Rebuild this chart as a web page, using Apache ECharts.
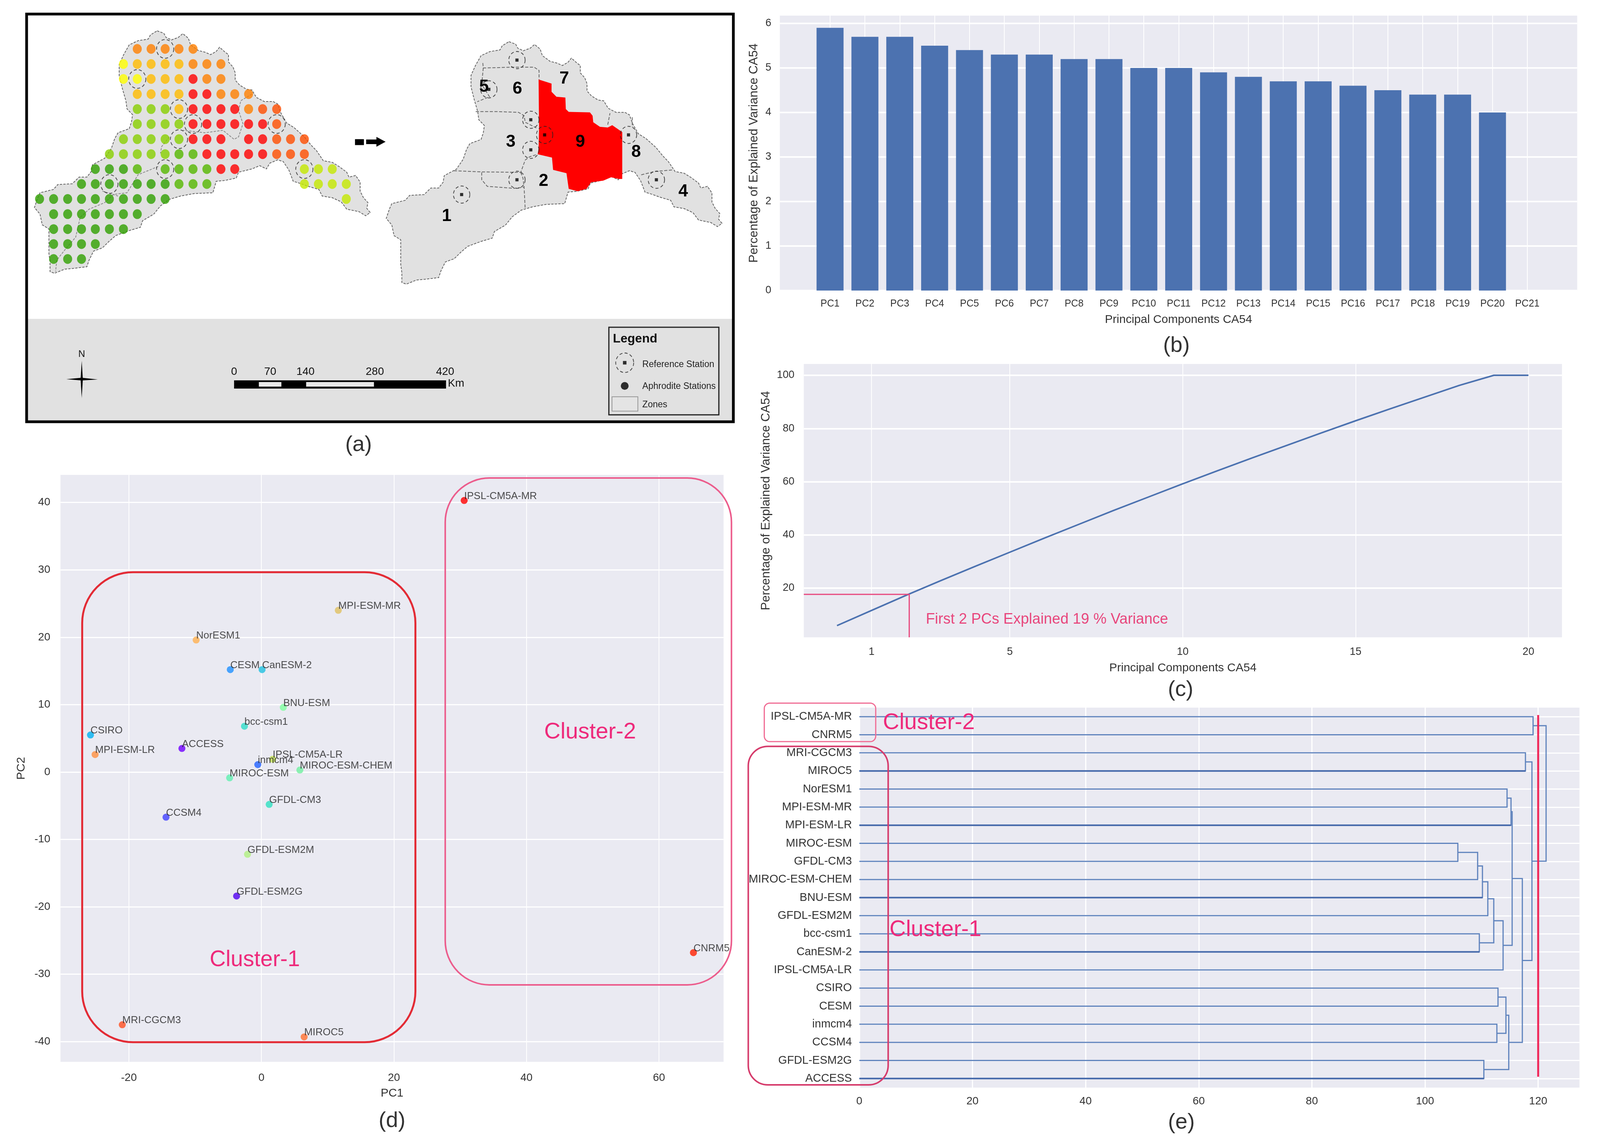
<!DOCTYPE html>
<html>
<head>
<meta charset="utf-8">
<title>Climate model clustering</title>
<script src="https://cdn.jsdelivr.net/npm/echarts@6/dist/echarts.min.js"></script>
<style>
  html, body { margin: 0; padding: 0; background: #fff; }
  #main { width: 100%; height: 2932px; }
</style>
</head>
<body>
<div id="main"></div>
<script>
// (a) map, values are map units
var basinOutline = [[585,45],[615,60],[625,85],[650,100],[680,85],[700,62],[725,90],[735,130],[770,165],[800,175],[825,190],[850,170],[865,145],[890,175],[905,190],[905,235],[925,265],[935,300],[935,345],[955,375],[985,400],[1010,405],[1030,450],[1065,475],[1105,475],[1125,490],[1140,545],[1165,605],[1200,635],[1245,690],[1275,740],[1300,775],[1330,835],[1370,845],[1400,870],[1435,905],[1445,935],[1475,925],[1495,965],[1495,1020],[1510,1060],[1530,1090],[1525,1125],[1540,1150],[1520,1170],[1490,1145],[1435,1130],[1410,1085],[1370,1060],[1325,1050],[1310,1010],[1260,990],[1230,975],[1195,960],[1175,890],[1150,840],[1125,830],[1090,850],[1075,885],[1045,865],[1010,885],[950,905],[940,940],[890,955],[850,960],[835,1030],[750,1035],[690,1050],[640,1070],[600,1110],[570,1160],[520,1200],[510,1240],[460,1260],[400,1290],[370,1325],[340,1365],[300,1385],[280,1440],[270,1480],[210,1490],[170,1495],[125,1520],[105,1510],[105,1450],[100,1400],[100,1310],[100,1250],[70,1225],[60,1160],[35,1120],[50,1060],[60,1030],[120,1010],[140,980],[205,975],[235,935],[270,935],[290,900],[295,860],[350,820],[380,760],[395,700],[410,665],[460,640],[470,600],[475,555],[450,520],[445,470],[430,400],[415,320],[415,250],[435,190],[460,130],[500,105],[545,95],[555,70]];
var leftZoneLines = [
  [[1010,430],[960,470],[950,530],[970,610],[950,690],[930,705],[880,650],[800,665],[700,650]],
  [[640,690],[605,750],[600,790]],
  [[590,870],[500,920],[450,1030],[390,1040],[350,1090],[280,1130],[240,1180],[220,1300],[170,1380],[135,1440],[130,1510]],
  [[340,1020],[410,1050]]
];
var zoneLines = [
  [[460,170],[462,200],[600,195],[690,195],[712,215],[712,270]],
  [[462,200],[455,300],[490,375],[435,405]],
  [[428,465],[520,465],[620,470],[645,490],[650,530],[700,565]],
  [[330,825],[450,832],[630,835],[650,760],[670,740],[705,725]],
  [[455,835],[455,880],[480,920],[600,932],[645,925],[650,1060]],
  [[630,835],[640,870],[645,925]],
  [[1170,850],[1230,830],[1310,820]],
  [[1020,545],[1030,475]],
  [[1130,500],[1130,560]]
];
var zoneNine = [[710,270],[768,295],[768,345],[790,375],[830,380],[832,450],[845,467],[940,470],[952,490],[955,530],[985,558],[1020,562],[1040,548],[1085,590],[1085,875],[1070,875],[1035,865],[1000,885],[945,895],[925,935],[885,950],[845,935],[835,840],[775,820],[770,745],[706,725],[710,690],[712,560]];
var zoneNumbers = ['1','2','3','4','5','6','7','8','9'];
var zoneNumberX = [298,732,585,1358,465,615,825,1147,897];
var zoneNumberY = [1103,888,652,952,315,327,265,712,650];
var refStationX = [613,487,675,737,675,1113,1238,613,365];
var refStationY = [152,330,515,607,698,607,880,880,970];

var stationColX = [58,121,184,246,308,371,434,496,558,621,683,746,808,871,933,995,1058,1121,1183,1245,1308,1370,1433];
var stationRowY = [155,247,338,430,521,612,704,795,886,977,1068,1160,1251,1342,1433];
var stationRows = [
  '.......OOOOO...........',
  '......YAAAAOOO.........',
  '......YYAAAROO.........',
  '.......AAAARROOO.......',
  '.......LLLARRRROEE.....',
  '.......LLLLRRRRRRE.....',
  '......LLLLLRRR.RREEE...',
  '.....LLLLLMMRRRRREEE...',
  '....DDDM.MMMMRR....KKK.',
  '...DDDDDDDMMM......KKKK',
  'DDDDDDDDDD............K',
  '.DDDDDDD...............',
  '.DDDDDD................',
  '.DDDD..................',
  '.DDD...................'
];
var stationColors = { O:'#ff8000', A:'#ffbb00', Y:'#ffff00', R:'#ff0000', E:'#ff4d00', L:'#88d000', M:'#55b800', D:'#2fa000', K:'#c4e800' };
var refCols = [9,7,10,11,17,10,9,5,19];
var refRows = [0,2,4,5,5,6,8,9,8];

// (b) explained variance per component
var pcLabels = ['PC1','PC2','PC3','PC4','PC5','PC6','PC7','PC8','PC9','PC10','PC11','PC12','PC13','PC14','PC15','PC16','PC17','PC18','PC19','PC20','PC21'];
var pcVariance = [5.9,5.7,5.7,5.5,5.4,5.3,5.3,5.2,5.2,5.0,5.0,4.9,4.8,4.7,4.7,4.6,4.5,4.4,4.4,4.0,0];

// (c) cumulative variance
var cumulativeX = [0,1,2,3,4,5,6,7,8,9,10,11,12,13,14,15,16,17,18,19,20];
var cumulativeVariance = [5.9,11.6,17.3,22.8,28.2,33.5,38.8,44,49.2,54.2,59.2,64.1,68.9,73.6,78.3,82.9,87.4,91.8,96.2,100,100];

// (d) PCA scores
var modelNames = ['IPSL-CM5A-MR','CNRM5','MPI-ESM-MR','NorESM1','CESM','CanESM-2','BNU-ESM','bcc-csm1','CSIRO','MPI-ESM-LR','ACCESS','IPSL-CM5A-LR','inmcm4','MIROC-ESM-CHEM','MIROC-ESM','GFDL-CM3','CCSM4','GFDL-ESM2M','GFDL-ESM2G','MRI-CGCM3','MIROC5'];
var pc1Scores = [30.6,65.2,11.6,-9.85,-4.7,0.1,3.3,-2.56,-25.8,-25.1,-12,1.7,-0.55,5.8,-4.8,1.17,-14.4,-2.1,-3.75,-21,6.45];
var pc2Scores = [40.3,-26.8,24,19.6,15.2,15.2,9.6,6.8,5.5,2.6,3.5,1.9,1.1,0.3,-0.86,-4.8,-6.7,-12.2,-18.4,-37.5,-39.3];
var modelColors = ['#ff0000','#ff2000','#e0c060','#ffb050','#1e90ff','#20c0e0','#80ffa0','#30dcc8','#00b0f0','#ff9040','#7000ff','#c0e050','#2060ff','#70f0a0','#60f0b0','#30e0c0','#4040ff','#b0f080','#5000f0','#ff5020','#ff7030'];

// (e) dendrogram, linkage style: node 21 + i joins linkA[i] and linkB[i]
var leafNames = ['IPSL-CM5A-MR','CNRM5','MRI-CGCM3','MIROC5','NorESM1','MPI-ESM-MR','MPI-ESM-LR','MIROC-ESM','GFDL-CM3','MIROC-ESM-CHEM','BNU-ESM','GFDL-ESM2M','bcc-csm1','CanESM-2','IPSL-CM5A-LR','CSIRO','CESM','inmcm4','CCSM4','GFDL-ESM2G','ACCESS'];
var linkA = [0,2,4,23,7,25,26,27,12,28,30,24,15,17,33,19,35,32,22,21];
var linkB = [1,3,5,6,8,9,10,11,13,29,14,31,16,18,34,20,36,37,38,39];
var linkHeights = [119.1,117.75,114.5,115.2,105.8,109.3,110.15,111.1,109.6,112.15,113.8,115.4,112.9,112.7,114.3,110.4,114.8,117.2,118.9,121.4];
var darkLeaves = [3,6,10,13,20];

var FONT = '"Liberation Sans", Arial, sans-serif';
var TEXT = '#333333';
var PLOT_BG = '#eaeaf2';
var BLUE = '#4c72b0';
var PINK = '#ee2a7b';

// the window can come out narrower than 4208, keep all panels inside it
var sx = document.getElementById('main').clientWidth / 4208;

// drawn through the axes of one grid
function shapeSeries(g, shapes, z) {
  return {
    type: 'custom', xAxisIndex: g, yAxisIndex: g, silent: true, z: z,
    data: shapes.map(function (s, i) { return [i, 0]; }),
    renderItem: function (params, api) {
      var s = shapes[params.dataIndex];
      return {
        type: s.closed ? 'polygon' : 'polyline',
        shape: { points: s.points.map(function (p) { return api.coord(p); }) },
        style: { fill: s.fill || 'transparent', stroke: s.stroke || null, lineWidth: s.width || 0, lineDash: s.dash || null }
      };
    }
  };
}
function textSeries(g, texts, z) {
  return {
    type: 'custom', xAxisIndex: g, yAxisIndex: g, silent: true, z: z,
    data: texts.map(function (t, i) { return [i, 0]; }),
    renderItem: function (params, api) {
      var t = texts[params.dataIndex];
      var p = api.coord([t.x, t.y]);
      return {
        type: 'text', x: p[0], y: p[1],
        style: { text: t.text, fontSize: t.size, fontWeight: t.bold ? 'bold' : 'normal', fontFamily: FONT,
                 fill: t.color || TEXT, align: t.align || 'center', verticalAlign: 'middle' }
      };
    }
  };
}
function boxSeries(g, boxes, z) {
  return {
    type: 'custom', xAxisIndex: g, yAxisIndex: g, silent: true, z: z,
    data: boxes.map(function (b, i) { return [i, 0]; }),
    renderItem: function (params, api) {
      var b = boxes[params.dataIndex];
      var p0 = api.coord([b.x0, b.y0]), p1 = api.coord([b.x1, b.y1]);
      return {
        type: 'rect',
        shape: { x: p0[0], y: p0[1], width: p1[0] - p0[0], height: p1[1] - p0[1], r: b.r },
        style: { fill: 'transparent', stroke: b.color, lineWidth: b.width }
      };
    }
  };
}
function shift(points, dx, dy) {
  return points.map(function (p) { return [p[0] + dx, p[1] + dy]; });
}

function valueAxis(grid, min, max, ticks, lineWidth, margin, fontSize, extra) {
  var axis = {
    type: 'value', gridIndex: grid, min: min, max: max, scale: true,
    axisLine: { show: false }, axisTick: { show: false, customValues: ticks },
    axisLabel: { customValues: ticks, margin: margin, fontSize: fontSize, fontFamily: FONT, color: TEXT },
    splitLine: { show: true, lineStyle: { color: '#ffffff', width: lineWidth } },
    nameTextStyle: { fontFamily: FONT, color: TEXT, fontSize: 30 }
  };
  for (var k in extra) axis[k] = extra[k];
  return axis;
}
var yTitleStyle = { fontFamily: FONT, color: TEXT, fontSize: 31.5 };
function plotGrid(left, top, width, height) {
  return { left: left * sx, top: top, width: width * sx, height: height, show: true, backgroundColor: PLOT_BG, borderWidth: 0 };
}

// map layers
var mapShapes = [];
mapShapes.push({ closed: true, points: [[0,1797],[3168,1797],[3168,2423],[0,2423]], fill: '#e1e1e1' });
mapShapes.push({ closed: true, points: basinOutline, fill: '#e1e1e1', stroke: '#666666', width: 2, dash: [6,3] });
mapShapes.push({ closed: true, points: shift(basinOutline, 1577, 66), fill: '#e1e1e1', stroke: '#666666', width: 2, dash: [6,3] });
leftZoneLines.forEach(function (line) {
  mapShapes.push({ points: line, stroke: '#8a8a8a', width: 2, dash: [6,3] });
});
zoneLines.forEach(function (line) {
  mapShapes.push({ points: shift(line, 1585, 71), stroke: '#666666', width: 2, dash: [8,4] });
});
mapShapes.push({ closed: true, points: shift(zoneNine, 1585, 71), fill: '#ff0000' });
// arrow between the two maps
mapShapes.push({ closed: true, points: [[1472,704],[1512,704],[1512,740],[1472,740]], fill: '#000' });
mapShapes.push({ closed: true, points: [[1522,706],[1568,706],[1568,690],[1609,720],[1568,750],[1568,734],[1522,734]], fill: '#000' });
// north arrow
mapShapes.push({ closed: true, points: [[247,2052],[252,2164],[247,2279],[242,2164]], fill: '#000' });
mapShapes.push({ closed: true, points: [[178,2164],[247,2155],[319,2166],[247,2172]], fill: '#000' });
// scale bar
mapShapes.push({ closed: true, points: [[930,2171],[1880,2171],[1880,2221],[930,2221]], fill: '#000' });
mapShapes.push({ closed: true, points: [[1041,2181],[1142,2181],[1142,2209],[1041,2209]], fill: '#e8e8e8' });
mapShapes.push({ closed: true, points: [[1253,2181],[1557,2181],[1557,2209],[1253,2209]], fill: '#e8e8e8' });
// legend box and zones swatch
mapShapes.push({ closed: true, points: [[2610,1848],[3103,1848],[3103,2381],[2610,2381]], stroke: '#222', width: 3 });
mapShapes.push({ closed: true, points: [[2624,2271],[2740,2271],[2740,2358],[2624,2358]], fill: '#e4e4e4', stroke: '#999', width: 2 });

var frameShape = [{ closed: true, points: [[0,-57],[3168,-57],[3168,2423],[0,2423]], stroke: '#000', width: 7 }];

var mapTexts = zoneNumbers.map(function (n, i) {
  return { x: zoneNumberX[i] + 1585, y: zoneNumberY[i] + 71, text: n, size: 44, bold: true, color: '#000' };
}).concat([
  { x: 930, y: 2119, text: '0', size: 28, color: '#111' },
  { x: 1092, y: 2119, text: '70', size: 28, color: '#111' },
  { x: 1250, y: 2119, text: '140', size: 28, color: '#111' },
  { x: 1561, y: 2119, text: '280', size: 28, color: '#111' },
  { x: 1876, y: 2119, text: '420', size: 28, color: '#111' },
  { x: 1925, y: 2192, text: 'Km', size: 28, color: '#111' },
  { x: 247, y: 2013, text: 'N', size: 24, color: '#111' },
  { x: 2628, y: 1919, text: 'Legend', size: 32, bold: true, align: 'left', color: '#111' },
  { x: 2760, y: 2075, text: 'Reference Station', size: 23, align: 'left', color: '#222' },
  { x: 2760, y: 2209, text: 'Aphrodite Stations', size: 23, align: 'left', color: '#222' },
  { x: 2760, y: 2319, text: 'Zones', size: 23, align: 'left', color: '#222' }
]);

var stationData = [];
stationRows.forEach(function (row, r) {
  row.split('').forEach(function (code, c) {
    if (code !== '.') stationData.push({ value: [stationColX[c], stationRowY[r]], itemStyle: { color: stationColors[code] } });
  });
});
var leftRefData = refCols.map(function (c, i) { return [stationColX[c], stationRowY[refRows[i]]]; });
var rightRefData = refStationX.map(function (x, i) { return [x + 1585, refStationY[i] + 71]; });
var ringStyle = { color: 'transparent', borderColor: '#222', borderWidth: 2, borderType: [8, 6] };

// dendrogram links, some leaf lines are darker in the picture
var nodeY = leafNames.map(function (n, i) { return i + 0.5; });
var nodeH = leafNames.map(function () { return 0; });
var linkShapes = [];
linkA.forEach(function (a, i) {
  var b = linkB[i], h = linkHeights[i];
  nodeY.push((nodeY[a] + nodeY[b]) / 2);
  nodeH.push(h);
  linkShapes.push({ points: [[nodeH[a], nodeY[a]], [h, nodeY[a]], [h, nodeY[b]], [nodeH[b], nodeY[b]]], stroke: '#5f83bd', width: 3 });
  [a, b].forEach(function (n) {
    if (darkLeaves.indexOf(n) >= 0) linkShapes.push({ points: [[0, nodeY[n]], [h, nodeY[n]]], stroke: '#4468aa', width: 4 });
  });
});

var pcTicks = pcLabels.map(function (l, i) { return i + 1; });
var leafTicks = leafNames.map(function (n, i) { return i + 0.5; });

var option = {
  animation: false,
  backgroundColor: '#ffffff',
  textStyle: { fontFamily: FONT },
  grid: [
    { left: 70 * sx, top: 36, width: 1859 * sx, height: 1044, show: true, backgroundColor: '#ffffff', borderWidth: 0 },
    plotGrid(2051, 40, 2097, 704),
    plotGrid(2114, 932, 1994, 700),
    plotGrid(159, 1216, 1744, 1503),
    plotGrid(2260, 1812, 1894, 973)
  ],
  xAxis: [
    { type: 'value', gridIndex: 0, min: 0, max: 3168.5, show: false },
    valueAxis(1, -0.44, 22.43, pcTicks, 2, 22, 25, {
      name: 'Principal Components CA54', nameLocation: 'middle', nameGap: 60,
      axisLabel: { customValues: pcTicks, margin: 22, fontSize: 25, fontFamily: FONT, color: TEXT,
                   formatter: function (v) { return pcLabels[v - 1]; } }
    }),
    valueAxis(2, -0.96, 20.97, [1, 5, 10, 15, 20], 2, 24, 27, {
      name: 'Principal Components CA54', nameLocation: 'middle', nameGap: 64
    }),
    valueAxis(3, -30.33, 69.75, [-20, 0, 20, 40, 60], 2, 27, 28, {
      name: 'PC1', nameLocation: 'middle', nameGap: 66
    }),
    valueAxis(4, 0, 127.3, [0, 20, 40, 60, 80, 100, 120], 3, 21, 28, {})
  ],
  yAxis: [
    { type: 'value', gridIndex: 0, inverse: true, min: -57, max: 2423, show: false },
    valueAxis(1, 0, 6.175, [0, 1, 2, 3, 4, 5, 6], 4, 22, 27, {
      name: 'Percentage of Explained Variance CA54', nameLocation: 'middle', nameGap: 50, nameTextStyle: yTitleStyle
    }),
    valueAxis(2, 1.5, 104.26, [20, 40, 60, 80, 100], 4, 24, 27, {
      name: 'Percentage of Explained Variance CA54', nameLocation: 'middle', nameGap: 80, nameTextStyle: yTitleStyle
    }),
    valueAxis(3, -43, 44.1, [-40, -30, -20, -10, 0, 10, 20, 30, 40], 3, 26, 28, {
      name: 'PC2', nameLocation: 'middle', nameGap: 85
    }),
    valueAxis(4, 0, 21, leafTicks, 3, 19, 29, {
      inverse: true,
      axisLabel: { customValues: leafTicks, margin: 19, fontSize: 29, fontFamily: FONT, color: TEXT,
                   formatter: function (v) { return leafNames[v - 0.5]; } }
    })
  ],
  series: [
    shapeSeries(0, mapShapes, 2),
    { type: 'scatter', xAxisIndex: 0, yAxisIndex: 0, z: 3, silent: true, symbolSize: [23, 25], data: stationData },
    { type: 'scatter', xAxisIndex: 0, yAxisIndex: 0, z: 4, silent: true, symbolSize: [44, 48], itemStyle: ringStyle, data: leftRefData },
    { type: 'scatter', xAxisIndex: 0, yAxisIndex: 0, z: 4, silent: true, symbolSize: [42, 44], itemStyle: ringStyle, data: rightRefData },
    { type: 'scatter', xAxisIndex: 0, yAxisIndex: 0, z: 4, silent: true, symbol: 'rect', symbolSize: 8, itemStyle: { color: '#000' }, data: rightRefData },
    { type: 'scatter', xAxisIndex: 0, yAxisIndex: 0, z: 4, silent: true, symbolSize: [46, 50], itemStyle: ringStyle, data: [[2681, 2064]] },
    { type: 'scatter', xAxisIndex: 0, yAxisIndex: 0, z: 4, silent: true, symbol: 'rect', symbolSize: 9, itemStyle: { color: '#000' }, data: [[2681, 2064]] },
    { type: 'scatter', xAxisIndex: 0, yAxisIndex: 0, z: 4, silent: true, symbolSize: 20, itemStyle: { color: '#000' }, data: [[2681, 2205]] },
    textSeries(0, mapTexts, 5),
    shapeSeries(0, frameShape, 6),

    { type: 'bar', xAxisIndex: 1, yAxisIndex: 1, barWidth: 71 * sx, itemStyle: { color: BLUE },
      data: pcVariance.map(function (v, i) { return [i + 1, v]; }) },

    { type: 'line', xAxisIndex: 2, yAxisIndex: 2, showSymbol: false, lineStyle: { color: BLUE, width: 4 },
      data: cumulativeX.map(function (x, i) { return [x, cumulativeVariance[i]]; }) },
    { type: 'line', xAxisIndex: 2, yAxisIndex: 2, showSymbol: false, lineStyle: { color: '#e8467c', width: 3 },
      data: [[-0.96, 17.65], [2.09, 17.65], [2.09, 1.5]] },
    textSeries(2, [{ x: 2.57, y: 8.25, text: 'First 2 PCs Explained 19 % Variance', size: 38, align: 'left', color: '#e8467c' }], 5),

    { type: 'scatter', xAxisIndex: 3, yAxisIndex: 3, symbolSize: 18, z: 4,
      label: { show: true, position: [9, -2], align: 'left', verticalAlign: 'middle', fontSize: 26, fontFamily: FONT, color: '#222222',
               formatter: function (p) { return p.name; } },
      data: modelNames.map(function (n, i) { return { name: n, value: [pc1Scores[i], pc2Scores[i]], itemStyle: { color: modelColors[i] } }; }) },
    boxSeries(3, [
      { x0: -27.05, y0: 29.66, x1: 23.24, y1: -40.09, r: 130, color: '#e32b35', width: 5 },
      { x0: 27.74, y0: 43.63, x1: 70.94, y1: -31.58, r: 113, color: '#ec5c8c', width: 4 }
    ], 5),
    textSeries(3, [
      { x: -1, y: -27.9, text: 'Cluster-1', size: 57, color: PINK },
      { x: 49.6, y: 5.9, text: 'Cluster-2', size: 58, color: PINK }
    ], 5),

    shapeSeries(4, linkShapes, 3),
    { type: 'line', xAxisIndex: 4, yAxisIndex: 4, showSymbol: false, z: 4, lineStyle: { color: '#f0285a', width: 5 },
      data: [[120, 0.41], [120, 20.4]] },
    boxSeries(4, [
      { x0: -16.8, y0: -0.25, x1: 2.9, y1: 1.88, r: 14, color: '#f06c94', width: 3 },
      { x0: -19.63, y0: 2.14, x1: 5.1, y1: 20.85, r: 50, color: '#d63c6c', width: 4 }
    ], 5),
    textSeries(4, [
      { x: 12.3, y: 0.84, text: 'Cluster-2', size: 58, color: PINK },
      { x: 13.45, y: 12.28, text: 'Cluster-1', size: 58, color: PINK }
    ], 5)
  ],
  graphic: [
    { text: '(a)', x: 943, y: 1140 },
    { text: '(b)', x: 3094, y: 886 },
    { text: '(c)', x: 3105, y: 1767 },
    { text: '(d)', x: 1031, y: 2871 },
    { text: '(e)', x: 3107, y: 2875 }
  ].map(function (c) {
    return { type: 'text', x: c.x * sx, y: c.y, z: 10,
             style: { text: c.text, fontSize: 56, fontFamily: FONT, fill: TEXT, align: 'center', verticalAlign: 'middle' } };
  })
};

var myChart = echarts.init(document.getElementById('main'));
myChart.setOption(option);
</script>
</body>
</html>
